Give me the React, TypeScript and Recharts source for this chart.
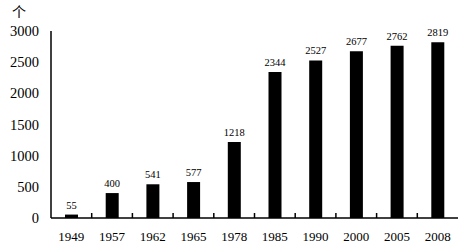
import React from 'react';
import { BarChart, Bar, XAxis, YAxis, LabelList } from 'recharts';

const years = ['1949', '1957', '1962', '1965', '1978', '1985', '1990', '2000', '2005', '2008'];
const counts = [55, 400, 541, 577, 1218, 2344, 2527, 2677, 2762, 2819];
const yTicks = [0, 500, 1000, 1500, 2000, 2500, 3000];

const data = years.map((year, i) => ({ year, count: counts[i] }));

const FONT = '"Liberation Serif", "Times New Roman", serif';
const CHART_W = 463;
const PLOT_LEFT = 51;
const PLOT_RIGHT = 5;
const HALF_BAND = (CHART_W - PLOT_LEFT - PLOT_RIGHT) / years.length / 2;

// year label plus the small separator tick on the left edge of each category
const YearTick = (props: any) => {
    const { x, y, payload } = props;
    const first = payload && payload.value === years[0];
    return (
        <g>
            {!first && (
                <path
                    d={`M${x - HALF_BAND},${y}V${y - 5}`}
                    stroke="#000"
                    strokeWidth={1.5}
                    fill="none"
                />
            )}
            <text x={x} y={y + 23} textAnchor="middle" fontFamily={FONT} fontSize={13} fill="#000">
                {payload.value}
            </text>
        </g>
    );
};

const App: React.FC = () => {
    return (
        <div style={{ position: 'absolute', left: 0, top: 0, width: CHART_W, height: 244, background: '#fff' }}>
            <BarChart
                width={CHART_W}
                height={244}
                data={data}
                margin={{ top: 31, right: PLOT_RIGHT, bottom: 0, left: 0 }}
                barSize={13}
            >
                <XAxis
                    dataKey="year"
                    height={26}
                    axisLine={{ stroke: '#000', strokeWidth: 1.5 }}
                    tickLine={false}
                    tickSize={0}
                    tickMargin={0}
                    tick={<YearTick />}
                    interval={0}
                />
                <YAxis
                    width={PLOT_LEFT}
                    domain={[0, 3000]}
                    ticks={yTicks}
                    axisLine={{ stroke: '#000', strokeWidth: 1.5 }}
                    tickLine={false}
                    tickSize={0}
                    tickMargin={12}
                    tick={{ fill: '#000', fontSize: 14.5, fontFamily: FONT }}
                />
                <Bar dataKey="count" fill="#000" isAnimationActive={false}>
                    <LabelList
                        dataKey="count"
                        position="top"
                        offset={6}
                        style={{ fill: '#000', fontSize: 10.5, fontFamily: FONT }}
                    />
                </Bar>
            </BarChart>
            <div
                style={{
                    position: 'absolute',
                    left: 12,
                    top: 3,
                    fontSize: 14,
                    fontFamily: '"Noto Sans CJK SC", sans-serif',
                    color: '#000',
                    lineHeight: '16px',
                }}
            >
                个
            </div>
        </div>
    );
};

export default App;
